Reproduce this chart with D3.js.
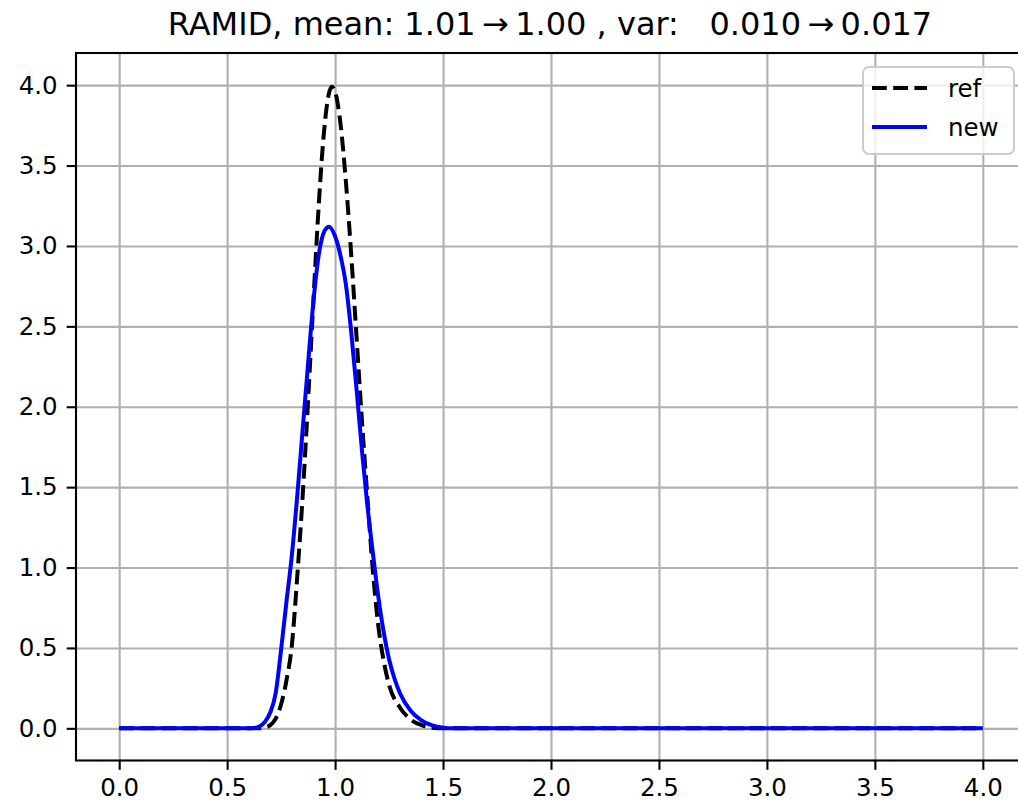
<!DOCTYPE html>
<html>
<head>
<meta charset="utf-8">
<script src="https://cdn.jsdelivr.net/npm/d3@7"></script>
<style>
    body { margin: 0; background: #fff; }
    svg { display: block; overflow: hidden; }
    text { font-family: "DejaVu Sans", sans-serif; fill: #000; }
</style>
</head>
<body>
<div id="chart"></div>
<script>
// chart values
const titleText = "RAMID, mean: 1.01\u2009\u2192\u20091.00 , var:   0.010\u2009\u2192\u20090.017";
const xTicks = [0.0, 0.5, 1.0, 1.5, 2.0, 2.5, 3.0, 3.5, 4.0];
const yTicks = [0.0, 0.5, 1.0, 1.5, 2.0, 2.5, 3.0, 3.5, 4.0];

// ref curve (dashed black)
const refX = [0, 0.60, 0.65, 0.675, 0.70, 0.725, 0.75, 0.775, 0.80, 0.825, 0.85, 0.875, 0.90, 0.925, 0.95, 0.97, 0.985,
    1.00, 1.025, 1.05, 1.075, 1.10, 1.125, 1.15, 1.175, 1.20, 1.225, 1.25, 1.30, 1.35, 1.40, 1.45, 1.50, 4.0];
const refY = [0, 0, 0, 0.005, 0.02, 0.06, 0.15, 0.30, 0.52, 0.95, 1.45, 2.04, 2.67, 3.27, 3.73, 3.94, 3.99,
    3.96, 3.76, 3.40, 2.94, 2.42, 1.90, 1.43, 0.98, 0.64, 0.42, 0.27, 0.13, 0.055, 0.02, 0.004, 0, 0];

// new curve (solid blue)
const newX = [0, 0.60, 0.625, 0.65, 0.675, 0.70, 0.725, 0.75, 0.775, 0.80, 0.825, 0.85, 0.875, 0.90, 0.925, 0.95, 0.972,
    1.00, 1.025, 1.05, 1.075, 1.10, 1.125, 1.15, 1.175, 1.20, 1.225, 1.25, 1.275, 1.30, 1.35, 1.40, 1.45, 1.50, 1.55, 4.0];
const newY = [0, 0, 0.002, 0.012, 0.04, 0.10, 0.22, 0.49, 0.79, 1.08, 1.45, 1.86, 2.27, 2.66, 2.95, 3.09, 3.12,
    3.06, 2.94, 2.76, 2.46, 2.10, 1.72, 1.38, 1.09, 0.82, 0.60, 0.43, 0.31, 0.22, 0.11, 0.05, 0.018, 0.004, 0, 0];

const seriesNames = ["ref", "new"];
const seriesColors = ["#000000", "#0000ff"];

const W = 1018, H = 805;
const margin = { top: 53, right: -8, bottom: 44.5, left: 76 };
const width = W - margin.left - margin.right,
    height = H - margin.top - margin.bottom;

let svg = d3.select("#chart").append("svg")
    .attr("width", W)
    .attr("height", H);

let g = svg.append("g")
    .attr("transform", "translate(" + margin.left + "," + margin.top + ")");

let x = d3.scaleLinear().domain([-0.2, 4.2]).range([0, width]);
let y = d3.scaleLinear().domain([-0.2, 4.2]).range([height, 0]);

// gridlines
g.append("g")
    .attr("class", "grid")
    .attr("transform", "translate(0," + height + ")")
    .call(d3.axisBottom(x).tickValues(xTicks).tickSize(-height).tickFormat(""));
g.append("g")
    .attr("class", "grid")
    .call(d3.axisLeft(y).tickValues(yTicks).tickSize(-width).tickFormat(""));
g.selectAll(".grid line").attr("stroke", "#b0b0b0").attr("stroke-width", 2.1);
g.selectAll(".grid .domain").remove();

// curves
let line = d3.line().curve(d3.curveMonotoneX)
    .x(d => x(d[0]))
    .y(d => y(d[1]));

let refData = refX.map((v, i) => [v, refY[i]]);
let newData = newX.map((v, i) => [v, newY[i]]);

g.append("path")
    .datum(refData)
    .attr("d", line)
    .attr("fill", "none")
    .attr("stroke", seriesColors[0])
    .attr("stroke-width", 4)
    .attr("stroke-dasharray", "14.8,6.4");

g.append("path")
    .datum(newData)
    .attr("d", line)
    .attr("fill", "none")
    .attr("stroke", seriesColors[1])
    .attr("stroke-width", 4);

// axes
let xAxis = g.append("g")
    .attr("transform", "translate(0," + height + ")")
    .call(d3.axisBottom(x).tickValues(xTicks).tickSize(9.3).tickPadding(9).tickFormat(d3.format(".1f")));
let yAxis = g.append("g")
    .call(d3.axisLeft(y).tickValues(yTicks).tickSize(9.3).tickPadding(9).tickFormat(d3.format(".1f")));

[xAxis, yAxis].forEach(a => {
    a.select(".domain").remove();
    a.selectAll("line").attr("stroke", "#000").attr("stroke-width", 2.1);
    a.selectAll("text").attr("font-size", 24.5).attr("font-family", "DejaVu Sans").attr("fill", "#000");
});

// spines
g.append("rect")
    .attr("x", 0).attr("y", 0)
    .attr("width", width).attr("height", height)
    .attr("fill", "none")
    .attr("stroke", "#000")
    .attr("stroke-width", 2.1);

// title
svg.append("text")
    .attr("x", 550)
    .attr("y", 35)
    .attr("text-anchor", "middle")
    .attr("font-size", 32)
    .style("white-space", "pre")
    .text(titleText);

// legend
let legend = svg.append("g").attr("transform", "translate(863,67)");
legend.append("rect")
    .attr("width", 151).attr("height", 87)
    .attr("rx", 6).attr("ry", 6)
    .attr("fill", "#fff").attr("fill-opacity", 0.8)
    .attr("stroke", "#cccccc").attr("stroke-width", 2);

seriesNames.forEach((name, i) => {
    let yy = 21 + i * 39;
    let l = legend.append("line")
        .attr("x1", 9).attr("x2", 64)
        .attr("y1", yy).attr("y2", yy)
        .attr("stroke", seriesColors[i])
        .attr("stroke-width", 4);
    if (i == 0) l.attr("stroke-dasharray", "14.8,6.4");
    legend.append("text")
        .attr("x", 85)
        .attr("y", yy + 9)
        .attr("font-size", 24.5)
        .text(name);
});
</script>
</body>
</html>
